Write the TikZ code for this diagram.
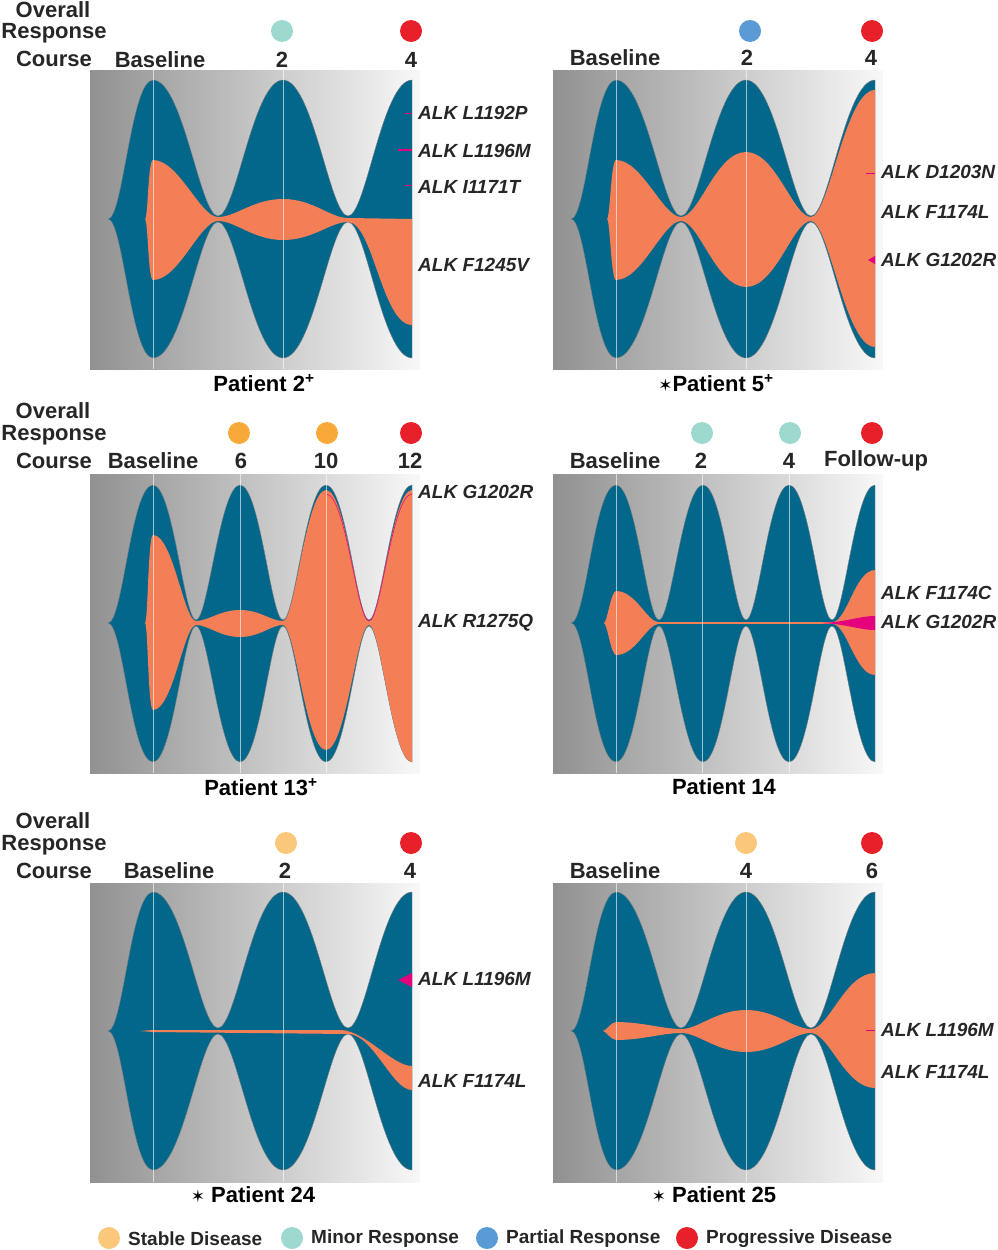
\documentclass[tikz,border=0pt]{standalone}
\usepackage{fontspec}
\setmainfont{Liberation Sans}
\newfontfamily\djv{DejaVu Sans}
\definecolor{fblue}{HTML}{02678B}
\definecolor{forange}{HTML}{F47F56}
\definecolor{fmag}{HTML}{E5007E}
\definecolor{cred}{HTML}{E8202A}
\definecolor{cteal}{HTML}{9ED9CF}
\definecolor{cpart}{HTML}{5B9BD5}
\definecolor{cstab}{HTML}{F9A93A}
\definecolor{clstab}{HTML}{FBC77A}
\definecolor{bgl}{HTML}{919191}
\definecolor{bgr}{HTML}{F8F8F8}
\newcommand\fsg[3]{.. controls +(#1,0) and +(-#2,0) .. (#3)}
\newcommand\frs[3]{.. controls +(-#1,0) and +(#2,0) .. (#3)}
\newcommand\mystar{{\djv\fontsize{17}{17}\selectfont ✶}}
\tikzset{
 bluefish/.style={fill=fblue,draw=gray,line width=0.4pt},
 orfish/.style={fill=forange},
 magfish/.style={fill=fmag},
 bgbox/.style={left color=bgl,right color=bgr},
 tline/.style={draw=white,opacity=0.6,line width=0.9pt},
 hdr/.style={font=\fontsize{22}{22}\selectfont\bfseries,text=black!85,inner sep=0pt},
 lab/.style={font=\fontsize{19}{19}\selectfont\bfseries\itshape,text=black!85,anchor=west,inner sep=0pt},
 ttl/.style={font=\fontsize{22}{22}\selectfont\bfseries,inner sep=0pt},
 leg/.style={font=\fontsize{19}{19}\selectfont\bfseries,text=black!85,anchor=west,inner sep=0pt},
 dot/.style={circle,minimum size=22pt,inner sep=0pt},
}
\begin{document}
\begin{tikzpicture}[x=1pt,y=-1pt]
\useasboundingbox (0,0) rectangle (998,1250);
\shade[bgbox] (90,70) rectangle (420,369);
\shade[bgbox] (553,70) rectangle (883,369);
\shade[bgbox] (90,474) rectangle (420,773);
\shade[bgbox] (553,474) rectangle (883,773);
\shade[bgbox] (90,883) rectangle (420,1182);
\shade[bgbox] (553,883) rectangle (883,1182);
\foreach \sx/\sy in {0/0,463/0,0/812,463/812}{
\begin{scope}[shift={(\sx,\sy)}]
\fill[bluefish] (108,219) \fsg{15}{22}{153,80} \fsg{30}{18}{218,216} \fsg{18}{30}{283,80} \fsg{30}{18}{348,216} \fsg{18}{30}{412,80} -- (412,358) \frs{30}{18}{348,222} \frs{18}{30}{283,358} \frs{30}{18}{218,222} \frs{18}{30}{153,358} \frs{22}{15}{108,219} -- cycle;
\end{scope}}
\foreach \sx in {0,463}{
\begin{scope}[shift={(\sx,0)}]
\fill[bluefish] (108,623) \fsg{15}{22}{153,485} \fsg{20}{12}{196,620} \fsg{12}{20}{240,485} \fsg{20}{12}{283,620} \fsg{12}{20}{326,485} \fsg{20}{12}{369,620} \fsg{12}{20}{412,485} -- (412,762) \frs{20}{12}{369,626} \frs{12}{20}{326,762} \frs{20}{12}{283,626} \frs{12}{20}{240,762} \frs{20}{12}{196,626} \frs{12}{20}{153,762} \frs{22}{15}{108,623} -- cycle;
\end{scope}}
\fill[orfish] (145,219) \fsg{3}{5}{153,160} \fsg{26}{18}{218,217} \fsg{18}{30}{283,199} \fsg{30}{18}{348,218} -- (412,219) -- (412,325) \frs{30}{25}{348,222} \frs{18}{30}{283,240} \frs{30}{18}{218,221} \frs{18}{26}{153,280} \frs{5}{3}{145,219} -- cycle;
\draw[fmag,line width=1.5pt] (398,150) -- (412,150);
\draw[fmag,line width=0.5pt] (405,113) -- (412,113) (405,185) -- (412,185);
\fill[orfish] (607,219) \fsg{3}{5}{616,160} \fsg{26}{18}{681,217} \fsg{18}{30}{746,152} \fsg{30}{18}{811,217} \fsg{18}{30}{875,90} -- (875,347) \frs{30}{18}{811,221} \frs{18}{30}{746,287} \frs{30}{18}{681,221} \frs{18}{26}{616,280} \frs{5}{3}{607,219} -- cycle;
\draw[fmag,line width=1pt] (866,173) -- (875,173);
\fill[magfish] (868,260) -- (875,256) -- (875,264) -- cycle;
\fill[orfish] (145,623) \fsg{3}{5}{153,535} \fsg{20}{12}{196,621} \fsg{12}{20}{240,610} \fsg{20}{12}{283,621} \fsg{12}{20}{326,490} \fsg{20}{12}{369,621} \fsg{12}{20}{412,490} -- (412,762) \frs{20}{12}{369,625} \frs{12}{20}{326,750} \frs{20}{12}{283,625} \frs{12}{20}{240,637} \frs{20}{12}{196,625} \frs{12}{20}{153,710} \frs{5}{3}{145,623} -- cycle;
\draw[fmag,line width=0.7pt,opacity=0.8] (326,494) \fsg{20}{12}{369,621} \fsg{12}{20}{412,494};
\fill[orfish] (604,623) \fsg{3}{5}{616,591} \fsg{20}{12}{659,622.2} -- (832,622.2) \fsg{15}{20}{875,570} -- (875,675) \frs{20}{15}{832,623.8} -- (659,623.8) \frs{12}{20}{616,655} \frs{5}{3}{604,623} -- cycle;
\fill[magfish] (822,622.8) \fsg{20}{15}{875,616} -- (875,630) \frs{15}{20}{822,623.2} -- cycle;
\fill[orfish] (140,1031) -- (153,1030) -- (340,1030) \fsg{25}{20}{412,1066} -- (412,1090) \frs{20}{25}{348,1034} -- (153,1032) -- cycle;
\fill[magfish] (398,980) -- (412,973) -- (412,987) -- cycle;
\fill[orfish] (603,1031) \fsg{3}{5}{616,1022} \fsg{26}{18}{681,1029} \fsg{18}{30}{746,1010} \fsg{30}{18}{811,1029} \fsg{18}{30}{875,973} -- (875,1088) \frs{30}{18}{811,1033} \frs{18}{30}{746,1052} \frs{30}{18}{681,1033} \frs{18}{26}{616,1040} \frs{5}{3}{603,1031} -- cycle;
\draw[fmag,line width=0.8pt] (866,1030) -- (875,1030);
\foreach \x in {153,283} \draw[tline] (\x,70) -- (\x,369);
\foreach \x in {616,746} \draw[tline] (\x,70) -- (\x,369);
\foreach \x in {153,240,326} \draw[tline] (\x,474) -- (\x,773);
\foreach \x in {616,702,789} \draw[tline] (\x,474) -- (\x,773);
\foreach \x in {153,283} \draw[tline] (\x,883) -- (\x,1182);
\foreach \x in {616,746} \draw[tline] (\x,883) -- (\x,1182);
\node[hdr] (ov1) at (53,10) {Overall};
\node[hdr] (re1) at (54,33) {Response};
\node[hdr] (co1) at (54,59) {Course};
\node[hdr] (ba1) at (160,60) {Baseline};
\node[hdr] (t12) at (282,60) {2};
\node[hdr] (t14) at (411,60) {4};
\node[dot,fill=cteal] (d12) at (282,31) {};
\node[dot,fill=cred] (d14) at (411,31) {};
\node[hdr] (ba2) at (615,58) {Baseline};
\node[hdr] (t22) at (747,58) {2};
\node[hdr] (t24) at (871,58) {4};
\node[dot,fill=cpart] (d22) at (750,31) {};
\node[dot,fill=cred] (d24) at (872,31) {};
\node[hdr] (ov3) at (53,411) {Overall};
\node[hdr] (re3) at (54,435) {Response};
\node[hdr] (co3) at (54,461) {Course};
\node[hdr] (ba3) at (153,461) {Baseline};
\node[hdr] (t36) at (241,461) {6};
\node[hdr] (t310) at (326,461) {10};
\node[hdr] (t312) at (410,461) {12};
\node[dot,fill=cstab] (d36) at (239,433) {};
\node[dot,fill=cstab] (d310) at (327,433) {};
\node[dot,fill=cred] (d312) at (411,433) {};
\node[hdr] (ba4) at (615,461) {Baseline};
\node[hdr] (t42) at (701,461) {2};
\node[hdr] (t44) at (789,461) {4};
\node[hdr] (t4f) at (876,461) {Follow-up};
\node[dot,fill=cteal] (d42) at (702,433) {};
\node[dot,fill=cteal] (d44) at (790,433) {};
\node[dot,fill=cred] (d4f) at (872,433) {};
\node[hdr] (ov5) at (53,821) {Overall};
\node[hdr] (re5) at (54,845) {Response};
\node[hdr] (co5) at (54,871) {Course};
\node[hdr] (ba5) at (169,871) {Baseline};
\node[hdr] (t52) at (285,871) {2};
\node[hdr] (t54) at (410,871) {4};
\node[dot,fill=clstab] (d52) at (286,843) {};
\node[dot,fill=cred] (d54) at (411,843) {};
\node[hdr] (ba6) at (615,871) {Baseline};
\node[hdr] (t64) at (746,871) {4};
\node[hdr] (t66) at (872,871) {6};
\node[dot,fill=clstab] (d64) at (746,843) {};
\node[dot,fill=cred] (d66) at (872,843) {};
\node[lab] (la1) at (418,113) {ALK L1192P};
\node[lab] (la2) at (418,151) {ALK L1196M};
\node[lab] (la3) at (418,187) {ALK I1171T};
\node[lab] (la4) at (418,265) {ALK F1245V};
\node[lab] (lb1) at (881,172) {ALK D1203N};
\node[lab] (lb2) at (881,212) {ALK F1174L};
\node[lab] (lb3) at (881,260) {ALK G1202R};
\node[lab] (lc1) at (418,492) {ALK G1202R};
\node[lab] (lc2) at (418,623) {ALK R1275Q};
\node[lab] (ld1) at (881,593) {ALK F1174C};
\node[lab] (ld2) at (881,622) {ALK G1202R};
\node[lab] (le1) at (418,979) {ALK L1196M};
\node[lab] (le2) at (418,1081) {ALK F1174L};
\node[lab] (lf1) at (881,1030) {ALK L1196M};
\node[lab] (lf2) at (881,1072) {ALK F1174L};
\node[ttl] (p2) at (264,383) {Patient 2\textsuperscript{+}};
\node[ttl] (p5) at (716,383) {\mystar Patient 5\textsuperscript{+}};
\node[ttl] (p13) at (261,787) {Patient 13\textsuperscript{+}};
\node[ttl] (p14) at (724,787) {Patient 14};
\node[ttl] (p24) at (253,1195) {\mystar\ Patient 24};
\node[ttl] (p25) at (714,1195) {\mystar\ Patient 25};
\node[dot,fill=clstab] (g1) at (109,1238) {};
\node[leg] (g1t) at (128,1239) {Stable Disease};
\node[dot,fill=cteal] (g2) at (292,1238) {};
\node[leg] (g2t) at (311,1239) {Minor Response};
\node[dot,fill=cpart] (g3) at (487,1238) {};
\node[leg] (g3t) at (506,1239) {Partial Response};
\node[dot,fill=cred] (g4) at (687,1238) {};
\node[leg] (g4t) at (706,1239) {Progressive Disease};
\end{tikzpicture}
\end{document}
